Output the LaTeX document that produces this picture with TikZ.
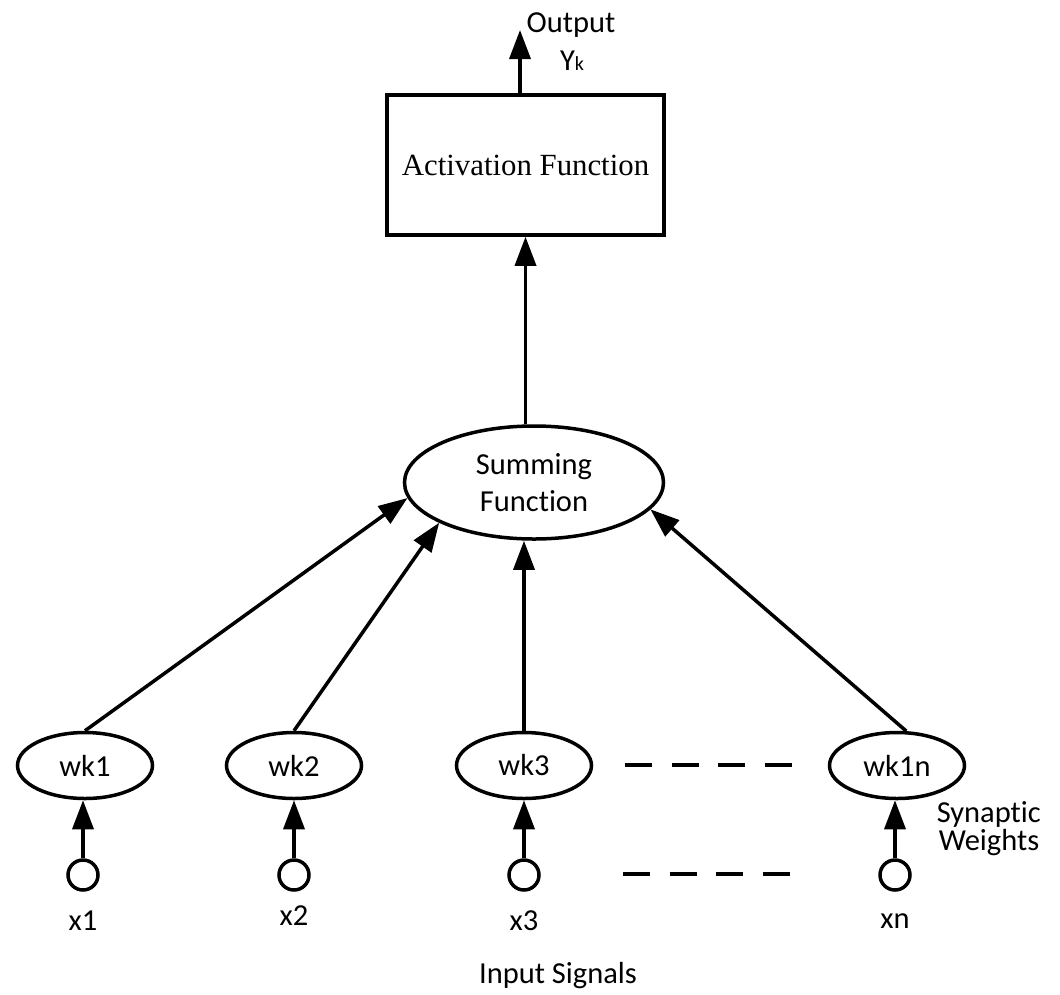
\documentclass[tikz,border=0pt]{standalone}
\usepackage{fontspec}
\setmainfont{Liberation Serif}
\newfontfamily\lblfont[Ligatures=NoCommon]{Carlito}
\usetikzlibrary{arrows.meta,shapes.geometric}

\begin{document}
\begin{tikzpicture}[x=1pt,y=-1pt,
  line width=3.5pt,
  arr/.style={-{Triangle[length=29pt,width=21pt]}},
  weight/.style={draw,ellipse,inner sep=0pt,minimum width=135pt,minimum height=66pt,
    font=\lblfont\fontsize{30.5}{37}\selectfont},
  inp/.style={draw,circle,inner sep=0pt,minimum size=30pt},
  lbl/.style={anchor=base,inner sep=0pt,font=\lblfont\fontsize{30.5}{37}\selectfont},
  dots/.style={line width=4pt,dash pattern=on 27pt off 19.5pt}]
\useasboundingbox (0,0) rectangle (1060,994);

% activation block
\node[draw,rectangle,minimum width=277pt,minimum height=140pt,inner sep=0pt,
  font=\fontsize{30.8}{37}\selectfont] (act) at (525.5,165) {Activation Function};

% summing junction
\node[draw,ellipse,inner sep=0pt,minimum width=259pt,minimum height=113pt,align=center,
  font=\lblfont\fontsize{30.5}{37.5}\selectfont] (sum) at (534,482.5) {Summing\\Function};

% synaptic weights
\node[weight] (w1) at (85,765.5) {wk1};
\node[weight] (w2) at (294,765.5) {wk2};
\node[weight] (w3) at (524,765.5) {wk3};
\node[weight] (w4) at (897,765.5) {wk1n};

% input terminals
\node[inp] (i1) at (83,875) {};
\node[inp] (i2) at (294,875) {};
\node[inp] (i3) at (524,875) {};
\node[inp] (i4) at (895,875) {};

% labels
\node[lbl] (tx1) at (83,930) {x1};
\node[lbl] (tx2) at (294,925) {x2};
\node[lbl] (tx3) at (524,930) {x3};
\node[lbl] (tx4) at (895,928) {xn};
\node[lbl] (tin) at (558,983) {Input Signals};
\node[lbl,anchor=base west] (tsyn) at (935,822) {Synaptic};
\node[lbl,anchor=base west] (twt) at (937,850) {Weights};
\node[lbl] (tout) at (571,32) {Output};
\node[lbl] (ty) at (572,70) {Y{\fontsize{20}{24}\selectfont k}};

% output
\coordinate (out) at (520,30);
\draw[arr] (out |- act.north) -- (out);

% summing to activation
\draw[arr] (act.south |- sum.north) -- (act.south);

% weights to summing
\draw[arr] (w1.north) -- (sum.187);
\draw[arr] (w2.north) -- (sum.203);
\draw[arr] (w3.north) -- (w3.north |- sum.south);
\draw[arr] (w4.75) -- (sum.347);

% inputs to weights
\draw[arr] (i1.north) -- (i1.north |- w1.south);
\draw[arr] (i2.north) -- (w2.south);
\draw[arr] (i3.north) -- (w3.south);
\draw[arr] (i4.north) -- (i4.north |- w4.south);

% omitted terms
\coordinate (d1a) at (625,765);
\coordinate (d1b) at (793,765);
\coordinate (d2a) at (623,874);
\coordinate (d2b) at (791,874);
\draw[dots] (d1a) -- (d1b);
\draw[dots] (d2a) -- (d2b);
\end{tikzpicture}
\end{document}
